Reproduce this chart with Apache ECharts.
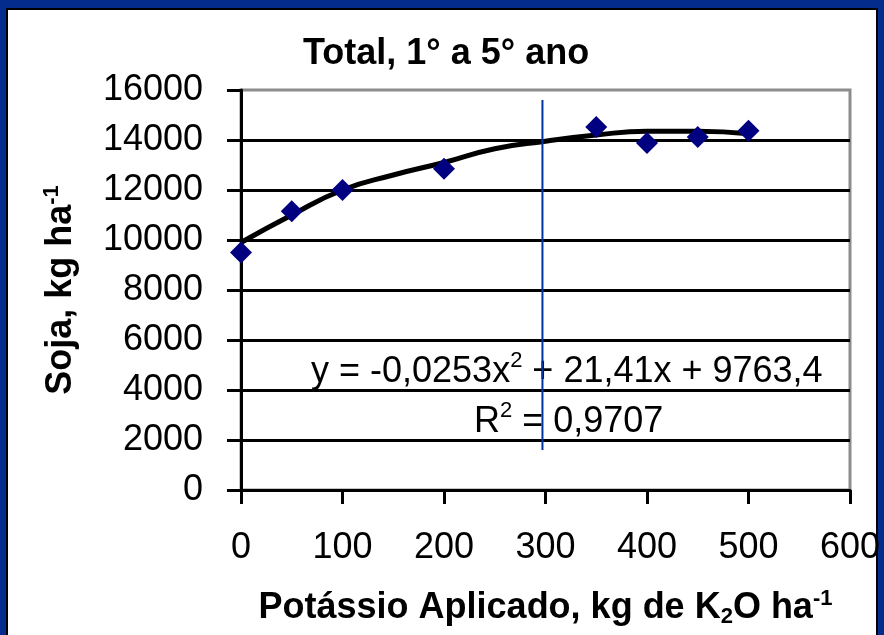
<!DOCTYPE html>
<html>
<head>
<meta charset="utf-8">
<script src="https://cdn.jsdelivr.net/npm/echarts@6/dist/echarts.min.js"></script>
<style>
  html, body { margin: 0; padding: 0; }
  body { width: 884px; height: 635px; overflow: hidden; background: #042c8c; position: relative; }
  #frame { position: absolute; left: 6px; top: 8px; right: 6px; bottom: -20px; background: #fff; border: 2px solid #000; }
  #chart { position: absolute; left: 0; top: 0; width: 884px; height: 635px; }
</style>
</head>
<body>
<div id="frame"></div>
<div id="chart"></div>
<script>
// observed yields
const doseX = [0, 50, 100, 200, 350, 400, 450, 500];
const yieldY = [9500, 11150, 12000, 12850, 14520, 13880, 14120, 14370];
// trend line as drawn in the picture
const trendX = [0, 50, 100, 150, 200, 250, 300, 350, 400, 450, 500];
const trendY = [9900, 11000, 12000, 12600, 13100, 13650, 13950, 14200, 14350, 14350, 14250];
// vertical marker line
const markerX = [297, 297];
const markerY = [1600, 15600];

const xTicks = [0, 100, 200, 300, 400, 500, 600];
const yTicks = [0, 2000, 4000, 6000, 8000, 10000, 12000, 14000, 16000];

const font = "'Liberation Sans', Arial, sans-serif";

const eqRich = {
  n: { fontFamily: font, fontSize: 36, lineHeight: 44, fill: "#000" },
  sup: { fontFamily: font, fontSize: 22, lineHeight: 22, verticalAlign: "top", fill: "#000" }
};

const chart = echarts.init(document.getElementById("chart"));
chart.setOption({
  backgroundColor: "transparent",
  animation: false,
  grid: {
    left: 241, right: 34, top: 90, bottom: 145,
    show: true, borderColor: "#8c8c8c", borderWidth: 3, backgroundColor: "transparent"
  },
  graphic: [
    {
      type: "text", left: 303, top: 36,
      style: { text: "Total, 1° a 5° ano", font: "bold 36px " + font, fill: "#000" }
    },
    {
      type: "text", left: 311, top: 350,
      style: { text: "{n|y = -0,0253x}{sup|2}{n| + 21,41x + 9763,4}", rich: eqRich }
    },
    {
      type: "text", left: 474, top: 400,
      style: { text: "{n|R}{sup|2}{n| = 0,9707}", rich: eqRich }
    }
  ],
  xAxis: {
    type: "value",
    min: xTicks[0], max: xTicks[xTicks.length - 1], interval: 100,
    name: "Potássio Aplicado, kg de K{sub|2}O ha{sup|-1}",
    nameLocation: "middle",
    nameGap: 98,
    nameTextStyle: {
      fontFamily: font, fontSize: 36, fontWeight: "bold", color: "#000",
      rich: {
        sub: { fontFamily: font, fontSize: 22, fontWeight: "bold", verticalAlign: "bottom", padding: [14, 0, 0, 0] },
        sup: { fontFamily: font, fontSize: 22, fontWeight: "bold", verticalAlign: "top", padding: [0, 0, 18, 0] }
      }
    },
    axisLine: { onZero: false, lineStyle: { color: "#000", width: 3 } },
    axisTick: { show: true, inside: false, length: 14, lineStyle: { color: "#000", width: 3 } },
    axisLabel: { margin: 40, fontFamily: font, fontSize: 36, color: "#000" },
    splitLine: { show: false }
  },
  yAxis: {
    type: "value",
    min: yTicks[0], max: yTicks[yTicks.length - 1], interval: 2000,
    name: "Soja, kg ha{sup|-1}",
    nameLocation: "middle",
    nameGap: 160,
    nameRotate: 90,
    nameTextStyle: {
      fontFamily: font, fontSize: 36, fontWeight: "bold", color: "#000",
      rich: {
        sup: { fontFamily: font, fontSize: 22, fontWeight: "bold", verticalAlign: "top", padding: [0, 0, 18, 0] }
      }
    },
    axisLine: { show: true, onZero: false, lineStyle: { color: "#000", width: 3 } },
    axisTick: { show: true, inside: false, length: 14, lineStyle: { color: "#000", width: 3 } },
    axisLabel: { margin: 38, fontFamily: font, fontSize: 36, color: "#000", formatter: v => String(v) },
    splitLine: { show: true, showMaxLine: false, lineStyle: { color: "#000", width: 3 } }
  },
  series: [
    {
      type: "line",
      data: trendX.map((x, i) => [x, trendY[i]]),
      smooth: true,
      symbol: "none",
      lineStyle: { color: "#000", width: 5 },
      z: 3
    },
    {
      type: "scatter",
      data: doseX.map((x, i) => [x, yieldY[i]]),
      symbol: "diamond",
      symbolSize: [22, 22],
      itemStyle: { color: "#000080", opacity: 1 },
      z: 4
    },
    {
      type: "line",
      data: markerX.map((x, i) => [x, markerY[i]]),
      symbol: "none",
      lineStyle: { color: "#0033a0", width: 2 },
      z: 5
    }
  ]
});
</script>
</body>
</html>
